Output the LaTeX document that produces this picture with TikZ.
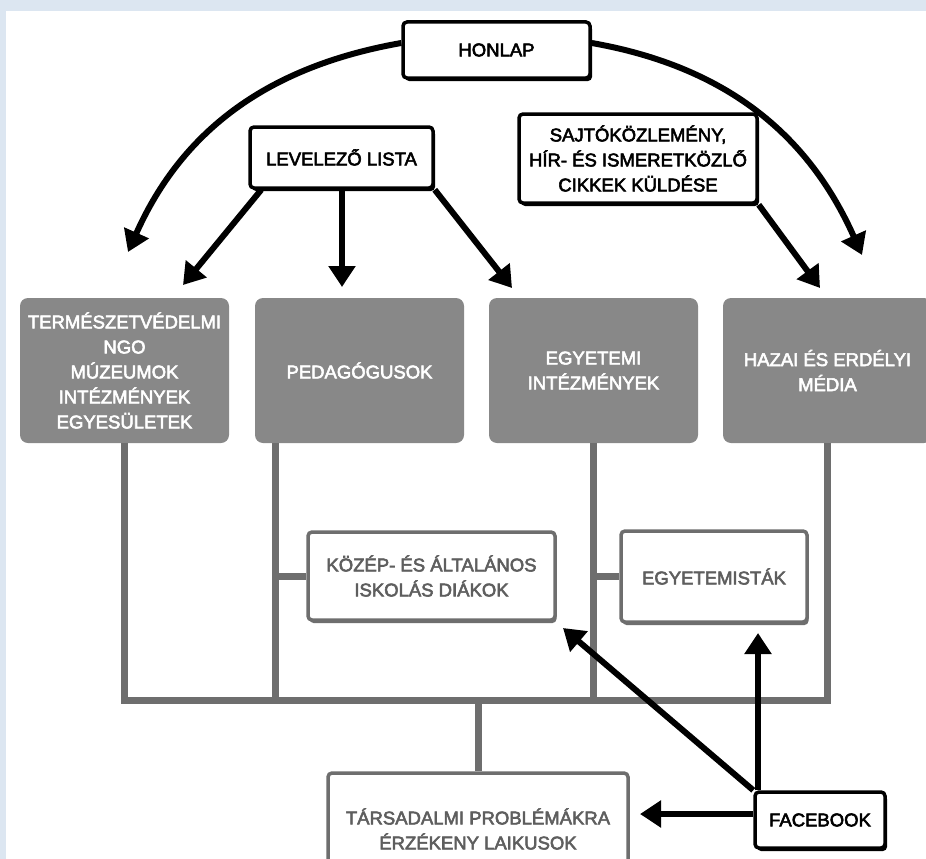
\documentclass[tikz,border=0pt]{standalone}
\usepackage{fontspec}
\newfontfamily\diagfont{Liberation Sans}[FakeBold=3]
\usetikzlibrary{positioning}
\usetikzlibrary{arrows.meta,shadows}
\definecolor{bgblue}{HTML}{DCE6F1}
\definecolor{boxgray}{HTML}{888888}
\definecolor{linegray}{HTML}{6E6E6E}
\definecolor{textgray}{HTML}{5E5E5E}

\begin{document}
\begin{tikzpicture}[
    x=1pt, y=-1pt,
    font=\diagfont\fontsize{18.5}{25}\selectfont,
    >={Triangle[length=21pt,width=26pt]}
]
\tikzstyle{channel}=[draw=black, line width=3.5pt, fill=white, rounded corners=4pt, align=center, inner sep=0pt,
    drop shadow={shadow xshift=2pt, shadow yshift=-3pt, fill=black, opacity=1}]
\tikzstyle{group}=[fill=boxgray, rounded corners=8pt, text=white, align=center, inner sep=0pt,
    minimum width=209pt, minimum height=145pt]
\tikzstyle{target}=[draw=linegray, line width=3.5pt, fill=white, rounded corners=4pt, text=textgray, align=center, inner sep=0pt,
    drop shadow={shadow xshift=1.5pt, shadow yshift=-3pt, fill=linegray, opacity=1}]
\tikzstyle{push}=[->, line width=6pt, black]
\tikzstyle{link}=[line width=7pt, linegray]

\useasboundingbox (0,0) rectangle (926,859);
\fill[bgblue] (0,0) rectangle (926,859);
\fill[white] (6,11) rectangle (926,859);

% Channels
\node[channel, minimum width=187pt, minimum height=56pt] (honlap) at (496.5,50) {HONLAP};
\node[channel, minimum width=183pt, minimum height=61pt] (lista) at (341.5,157.5) {LEVELEZŐ LISTA};
\node[channel, minimum width=238pt, minimum height=89pt] (sajto) at (638,158.5)
    {SAJTÓKÖZLEMÉNY,\\HÍR- ÉS ISMERETKÖZLŐ\\CIKKEK KÜLDÉSE};
\node[channel, minimum width=130pt, minimum height=56pt] (fb) at (820,820) {FACEBOOK};

% Groups
\node[group] (ngo) at (124.5,370.5) {TERMÉSZETVÉDELMI\\NGO\\MÚZEUMOK\\INTÉZMÉNYEK\\EGYESÜLETEK};
\node[group] (ped) at (359.5,370.5) {PEDAGÓGUSOK};
\node[group] (egy) at (593.5,370.5) {EGYETEMI\\INTÉZMÉNYEK};
\node[group] (media) at (827.5,370.5) {HAZAI ÉS ERDÉLYI\\MÉDIA};

% Reached audiences
\node[target, minimum width=247pt, minimum height=88pt] (diak) at (431.5,576) {KÖZÉP- ÉS ÁLTALÁNOS\\ISKOLÁS DIÁKOK};
\node[target, minimum width=186pt, minimum height=91pt] (hallg) at (714,576.5) {EGYETEMISTÁK};
\node[target, minimum width=300pt, minimum height=112pt] (laik) at (478,829) {TÁRSADALMI PROBLÉMÁKRA\\ÉRZÉKENY LAIKUSOK};

% Arrow ends
\coordinate (hl) at (128,252);
\coordinate (hr) at (862,255);
\coordinate (l1) at (183,285);
\coordinate (l2) at (342,287);
\coordinate (l3) at (512,288);
\coordinate (s1) at (820,288);
\coordinate (f1) at (563,628);
\coordinate (f2) at (758,633);
\coordinate (f3) at (640,814);

% Tree
\coordinate (bus) at (0,700);
\coordinate (p2) at (275,443);
\draw[link] (ngo.south) -- (ngo.south |- bus) -- (media.south |- bus) -- (media.south);
\draw[link] (p2) -- (p2 |- bus);
\draw[link] (p2 |- diak.west) -- (diak.west);
\draw[link] (egy.south) -- (egy.south |- bus);
\draw[link] (egy.south |- hallg.west) -- (hallg.west);
\draw[link] (laik.north |- bus) -- (laik.north);

% Arrows
\draw[push] ([yshift=7pt]honlap.west) to[out=190, in=66] (hl);
\draw[push] ([yshift=7pt]honlap.east) to[out=-10, in=114] (hr);
\draw[push] ([xshift=13pt]lista.south west) -- (l1);
\draw[push] (lista.south -| l2) -- (l2);
\draw[push] (lista.south east) -- (l3);
\draw[push] (sajto.south east) -- (s1);
\draw[push] (fb.north west) -- (f1);
\draw[push] (f2 |- fb.north) -- (f2);
\draw[push] (fb.west |- f3) -- (f3);

\end{tikzpicture}
\end{document}
